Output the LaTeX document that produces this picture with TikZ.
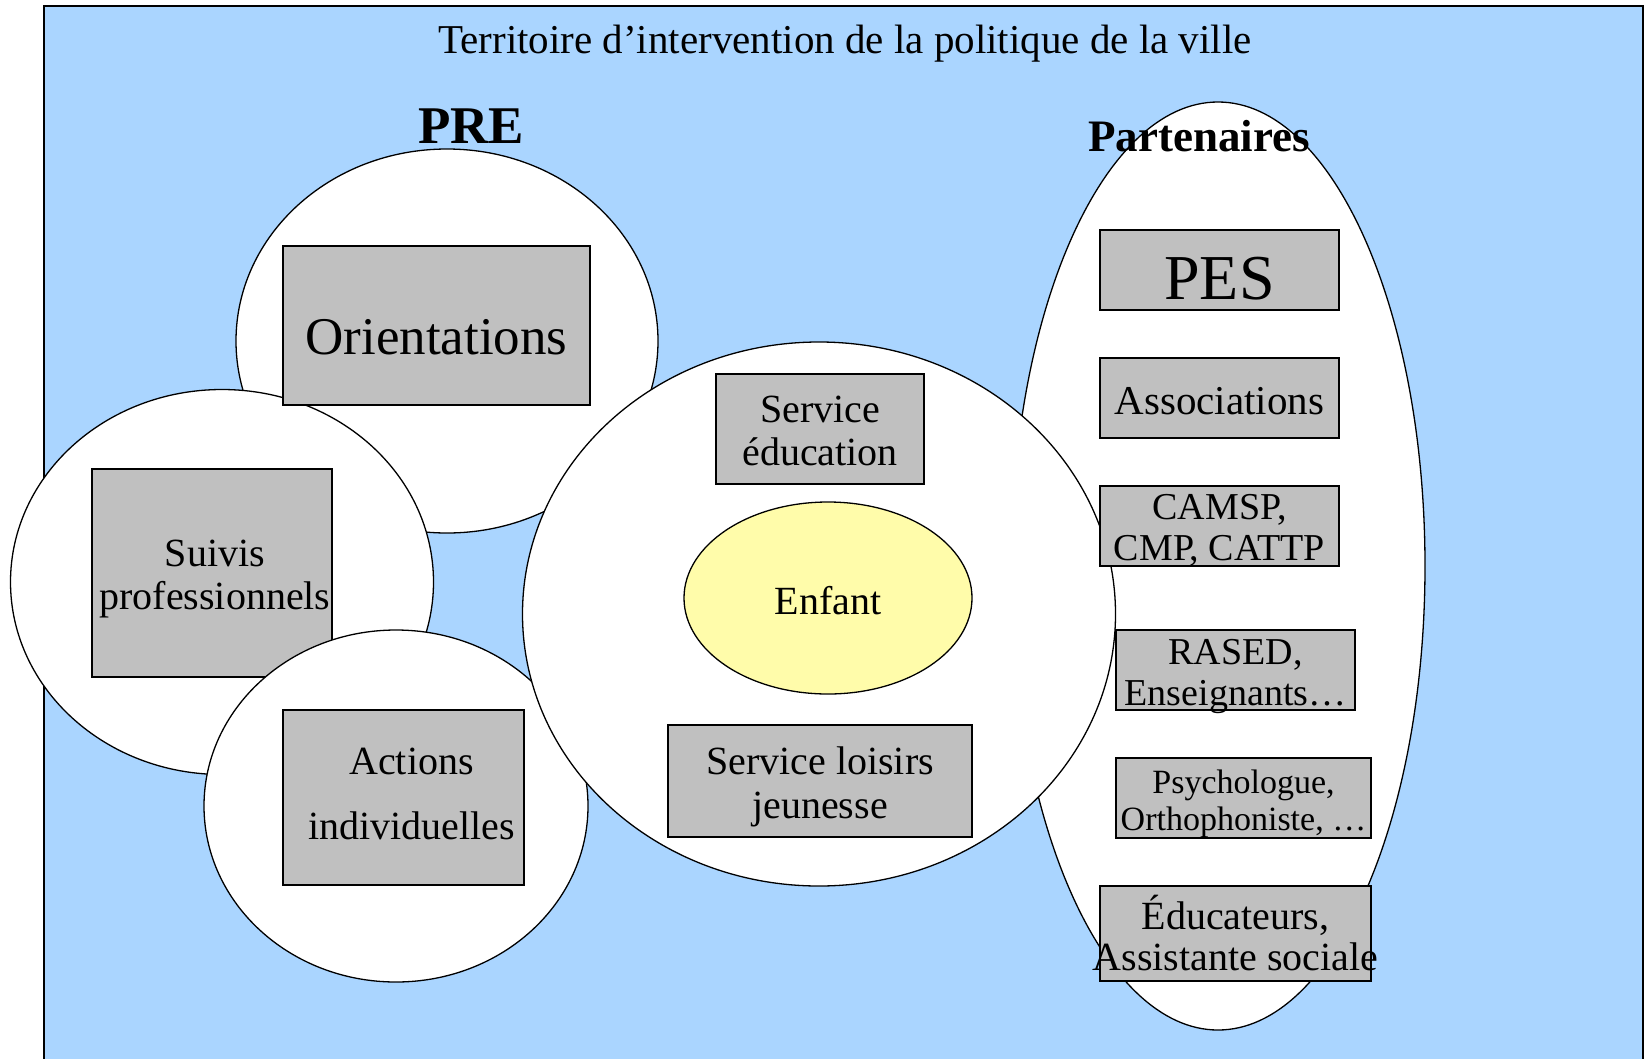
\documentclass[tikz,border=0pt]{standalone}
\usepackage{fontspec}
\setmainfont{Liberation Serif}
\usetikzlibrary{shapes.geometric}
\definecolor{sky}{RGB}{170,213,255}
\definecolor{boxgray}{RGB}{192,192,192}
\definecolor{kidyellow}{RGB}{255,252,170}
\begin{document}
\begin{tikzpicture}[x=1pt,y=-1pt,
  blob/.style={ellipse, draw=black, line width=1.3pt, fill=white, inner sep=0pt},
  gbox/.style={rectangle, draw=black, line width=1.8pt, fill=boxgray, inner sep=0pt},
  txt/.style={inner sep=0pt, align=center},
  f40/.style={font=\fontsize{40}{42}\selectfont},
]
\useasboundingbox (0,0) rectangle (1646,1058);
\node[rectangle, fill=sky, draw=black, line width=1.8pt, minimum width=1599pt, minimum height=1080pt, inner sep=0pt] (territoire) at (843.5,546) {};
\node[txt, font=\fontsize{41}{43}\selectfont] (titre) at (845,44) {Territoire d’intervention de la politique de la ville};

% Partenaires ellipse
\node[blob, minimum width=414pt, minimum height=928pt] (partell) at (1218,566) {};
% PRE ellipses
\node[blob, minimum width=422pt, minimum height=384pt] (orell) at (447,341) {};
\node[blob, minimum width=423pt, minimum height=385pt] (suell) at (222,582) {};
\node[gbox, minimum width=307pt, minimum height=159pt] (orient) at (436.5,325.5) {};
\node[txt, font=\fontsize{53}{55}\selectfont] (orient-t) at ([shift={(0,12)}]orient.center) {Orientations};
\node[gbox, minimum width=240pt, minimum height=208pt] (suivis) at (212,573) {};
\node[txt, font=\fontsize{40}{43}\selectfont] (suivis-t) at ([shift={(3,6)}]suivis.center) {Suivis\\professionnels};
\node[blob, minimum width=384pt, minimum height=352pt] (acell) at (396,806) {};
\node[gbox, minimum width=241pt, minimum height=175pt] (actions) at (403.5,797.5) {};
\node[txt, font=\fontsize{40}{65}\selectfont] (actions-t) at ([shift={(8,-4)}]actions.center) {Actions\\individuelles};

% middle ellipse
\node[blob, minimum width=593pt, minimum height=544pt] (midell) at (819,614) {};
\node[ellipse, draw=black, line width=1.3pt, fill=kidyellow, inner sep=0pt, minimum width=288pt, minimum height=192pt] (enfant) at (828,598) {};
\node[txt, f40] (enfant-t) at ([shift={(0,3)}]enfant.center) {Enfant};
\node[gbox, minimum width=208pt, minimum height=110pt] (educ) at (820,429) {};
\node[txt, font=\fontsize{40}{43}\selectfont] (educ-t) at ([shift={(0,2)}]educ.center) {Service\\éducation};
\node[gbox, minimum width=304pt, minimum height=112pt] (loisirs) at (820,781) {};
\node[txt, font=\fontsize{40}{44}\selectfont] (loisirs-t) at ([shift={(0,6)}]loisirs.center) {Service loisirs\\jeunesse};

% partenaires boxes
\node[gbox, minimum width=239pt, minimum height=80pt] (pes) at (1219.5,270) {};
\node[txt, font=\fontsize{64}{66}\selectfont] (pes-t) at ([shift={(0,9)}]pes.center) {PES};
\node[gbox, minimum width=239pt, minimum height=80pt] (assoc) at (1219.5,398) {};
\node[txt, font=\fontsize{41}{43}\selectfont] (assoc-t) at ([shift={(0,3)}]assoc.center) {Associations};
\node[gbox, minimum width=239pt, minimum height=80pt] (camsp) at (1219.5,526) {};
\node[txt, font=\fontsize{38}{41}\selectfont] (camsp-t) at ([shift={(0,4)}]camsp.center) {CAMSP,\\CMP, CATTP};
\node[gbox, minimum width=239pt, minimum height=80pt] (rased) at (1235.5,670) {};
\node[txt, font=\fontsize{38}{41}\selectfont] (rased-t) at ([shift={(0,7)}]rased.center) {RASED,\\Enseignants…};
\node[gbox, minimum width=255pt, minimum height=80pt] (psy) at (1243.5,798) {};
\node[txt, font=\fontsize{34}{37}\selectfont] (psy-t) at ([shift={(0,6)}]psy.center) {Psychologue,\\Orthophoniste, …};
\node[gbox, minimum width=271pt, minimum height=95pt] (educateurs) at (1235.5,933.5) {};
\node[txt, font=\fontsize{40}{41}\selectfont] (educateurs-t) at (educateurs.center) {Éducateurs,\\Assistante sociale};

% labels
\node[txt, font=\bfseries\fontsize{53}{55}\selectfont] (pre) at (471,126) {PRE};
\node[txt, font=\bfseries\fontsize{45}{47}\selectfont] (partlab) at (1199,136) {Partenaires};
\end{tikzpicture}
\end{document}
